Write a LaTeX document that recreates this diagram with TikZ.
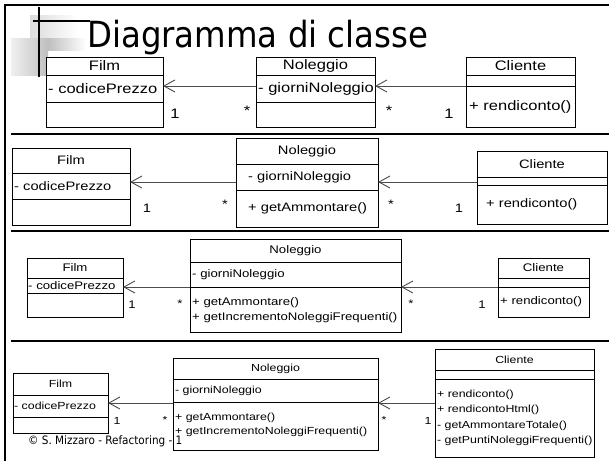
\documentclass[tikz,border=0pt]{standalone}
\usepackage{fontspec}
\usetikzlibrary{arrows.meta,shadows}
\newfontfamily\umlfont[FakeStretch=1.2]{Liberation Sans}
\newfontfamily\slidefont[FakeStretch=0.9]{DejaVu Sans}

% class box: name, x0, y0, x1, y1, first divider, second divider, extra style
\newcommand{\classframe}[8]{%
  \pgfmathsetmacro\cfw{#4-#2}\pgfmathsetmacro\cfh{#5-#3}%
  \node[classbox,#8,minimum width=\cfw pt,minimum height=\cfh pt,anchor=north west] (#1) at (#2,#3) {};
  \draw[classline] (#1.west |- 0,#6) -- (#1.east |- 0,#6);
  \draw[classline] (#1.west |- 0,#7) -- (#1.east |- 0,#7);
}

\tikzset{
  classbox/.style={draw=black, fill=white, line width=0.9pt, outer sep=0pt, inner sep=0pt},
  shadowed/.style={drop shadow={shadow xshift=0.9pt, shadow yshift=-0.9pt, fill=black, opacity=1}},
  plainbox/.style={},
  classline/.style={draw=black, line width=0.8pt},
  assoc/.style={draw=black!70, line width=0.9pt, -{Straight Barb[length=11pt,width=12pt,line width=0.9pt]}},
  txt/.style={inner sep=0pt, anchor=west},
  ctr/.style={inner sep=0pt},
  mult/.style={inner sep=0pt, anchor=base},
  fa/.style={font=\umlfont\fontsize{13.75}{16}\selectfont},
  fb/.style={font=\umlfont\fontsize{12.25}{14}\selectfont},
  fc/.style={font=\umlfont\fontsize{11}{13}\selectfont},
  fd/.style={font=\umlfont\fontsize{10.3}{12}\selectfont},
  frameline/.style={draw=black, line width=2pt},
  sepline/.style={draw=black, line width=2.4pt},
}

\begin{document}
\begin{tikzpicture}[x=1pt, y=-1pt]
\fill[white] (0,0) rectangle (609,461);
\useasboundingbox (0,0) rectangle (609,461);

% slide frame
\draw[frameline] (5,4) -- (5,461);
\draw[frameline] (4,5) -- (609,5);

% title ornament
\shade[left color=gray!28, right color=white] (30,15) rectangle (78,43);
\shade[left color=gray!12, right color=gray!50] (11,38) rectangle (48,75);
\shade[left color=gray!50, right color=white] (48,38) rectangle (86,50);
\draw[black, line width=1.6pt] (39,7) -- (39,77);
\draw[black, line width=1.6pt] (33,21) -- (90,21);

\node[anchor=base west, inner sep=0pt, font=\slidefont\fontsize{36}{40}\selectfont] (title) at (87,47) {Diagramma di classe};

% ---------- first version ----------
\classframe{film1}{46}{57}{163}{127}{75}{102}{shadowed}
\node[ctr,fa] (film1-n) at (104.5,66) {Film};
\node[txt,fa] (film1-a) at (48,88.5) {- codicePrezzo};
\classframe{nol1}{256}{57}{375}{127}{75}{102}{shadowed}
\node[ctr,fa] (nol1-n) at (315.5,66) {Noleggio};
\node[txt,fa] (nol1-a) at (258,88.5) {- giorniNoleggio};
\classframe{cli1}{466}{57}{575}{127}{75}{86}{shadowed}
\node[ctr,fa] (cli1-n) at (520.5,66) {Cliente};
\node[txt,fa] (cli1-o) at (469,106.5) {+ rendiconto()};
\coordinate (r1) at (0,86);
\draw[assoc] (nol1.west |- r1) -- (film1.east |- r1);
\draw[assoc] (cli1.west |- r1) -- (nol1.east |- r1);
\node[mult,fa] (m1a) at (175,118) {1};
\node[mult,fa] (m1b) at (247,115) {*};
\node[mult,fa] (m1c) at (389,115) {*};
\node[mult,fa] (m1d) at (449,118) {1};

\draw[sepline] (11,134) -- (609,134);

% ---------- second version ----------
\classframe{film2}{12}{148}{130}{225}{173}{199}{shadowed}
\node[ctr,fb] (film2-n) at (71,160.5) {Film};
\node[txt,fb] (film2-a) at (14,186) {- codicePrezzo};
\classframe{nol2}{236}{138}{378}{227}{164}{190}{shadowed}
\node[ctr,fb] (nol2-n) at (307,151) {Noleggio};
\node[txt,fb] (nol2-a) at (248,177) {- giorniNoleggio};
\node[txt,fb] (nol2-o) at (248,208.5) {+ getAmmontare()};
\classframe{cli2}{477}{151}{607}{224}{177}{185}{shadowed}
\node[ctr,fb] (cli2-n) at (542,164) {Cliente};
\node[txt,fb] (cli2-o) at (486,204.5) {+ rendiconto()};
\coordinate (r2) at (0,182);
\draw[assoc] (nol2.west |- r2) -- (film2.east |- r2);
\draw[assoc] (cli2.west |- r2) -- (nol2.east |- r2);
\node[mult,fb] (m2a) at (147,212) {1};
\node[mult,fb] (m2b) at (225,208) {*};
\node[mult,fb] (m2c) at (391,208) {*};
\node[mult,fb] (m2d) at (459,212) {1};

\draw[sepline] (11,231) -- (609,231);

% ---------- third version ----------
\classframe{film3}{27}{258}{123}{317}{278}{293}{plainbox}
\node[ctr,fc] (film3-n) at (75,268) {Film};
\node[txt,fc] (film3-a) at (28,285.5) {- codicePrezzo};
\classframe{nol3}{190}{239}{401}{332}{262}{287}{plainbox}
\node[ctr,fc] (nol3-n) at (295.5,250.5) {Noleggio};
\node[txt,fc] (nol3-a) at (192,274.5) {- giorniNoleggio};
\node[txt,fc] (nol3-o1) at (192,302.5) {+ getAmmontare()};
\node[txt,fc] (nol3-o2) at (192,318) {+ getIncrementoNoleggiFrequenti()};
\classframe{cli3}{498}{258}{589}{317}{278}{287}{plainbox}
\node[ctr,fc] (cli3-n) at (543.5,268) {Cliente};
\node[txt,fc] (cli3-o) at (500,302) {+ rendiconto()};
\coordinate (r3) at (0,287);
\draw[assoc] (nol3.west |- r3) -- (film3.east |- r3);
\draw[assoc] (cli3.west |- r3) -- (nol3.east |- r3);
\node[mult,fc] (m3a) at (132,308) {1};
\node[mult,fc] (m3b) at (180,307) {*};
\node[mult,fc] (m3c) at (411,307) {*};
\node[mult,fc] (m3d) at (482,308) {1};

\draw[sepline] (11,341) -- (609,341);

% ---------- fourth version ----------
\classframe{film4}{13}{373}{108}{433}{395}{417}{plainbox}
\node[ctr,fd] (film4-n) at (60.5,384) {Film};
\node[txt,fd] (film4-a) at (14,406) {- codicePrezzo};
\classframe{nol4}{173}{358}{378}{450}{379}{402}{plainbox}
\node[ctr,fd] (nol4-n) at (275.5,368.5) {Noleggio};
\node[txt,fd] (nol4-a) at (175,390.5) {- giorniNoleggio};
\node[txt,fd] (nol4-o1) at (175,418) {+ getAmmontare()};
\node[txt,fd] (nol4-o2) at (175,432) {+ getIncrementoNoleggiFrequenti()};
\classframe{cli4}{435}{349}{594}{457}{370}{379}{plainbox}
\node[ctr,fd] (cli4-n) at (514.5,359.5) {Cliente};
\node[txt,fd] (cli4-o1) at (437,395) {+ rendiconto()};
\node[txt,fd] (cli4-o2) at (437,410) {+ rendicontoHtml()};
\node[txt,fd] (cli4-o3) at (437,425.5) {- getAmmontareTotale()};
\node[txt,fd] (cli4-o4) at (437,440.5) {- getPuntiNoleggiFrequenti()};
\coordinate (r4) at (0,403);
\draw[assoc] (nol4.west |- r4) -- (film4.east |- r4);
\draw[assoc] (cli4.west |- r4) -- (nol4.east |- r4);
\node[mult,fd] (m4a) at (117,424) {1};
\node[mult,fd] (m4b) at (165,423) {*};
\node[mult,fd] (m4c) at (384,423) {*};
\node[mult,fd] (m4d) at (428,424) {1};

% footer
\node[anchor=base west, inner sep=0pt, font=\slidefont\fontsize{11.6}{13}\selectfont] (footer) at (28,444) {© S. Mizzaro - Refactoring - 1};
\end{tikzpicture}
\end{document}
